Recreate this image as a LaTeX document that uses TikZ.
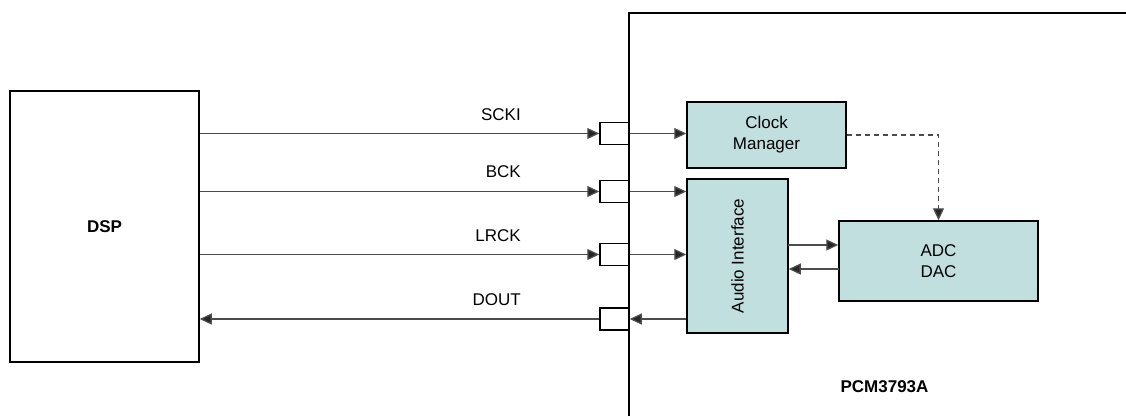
\documentclass[tikz,border=0pt]{standalone}
\usepackage{fontspec}
\setmainfont{Liberation Sans}
\usetikzlibrary{arrows.meta,positioning}
\definecolor{blockfill}{HTML}{C0DFDE}

\tikzset{
	blk/.style={draw, line width=1.5pt, fill=blockfill, inner sep=0pt, align=center, font=\fontsize{17}{21}\selectfont},
	pinbox/.style={draw, line width=1.5pt, fill=white, minimum width=29pt, minimum height=22pt, inner sep=0pt},
	sig/.style={line width=1.3pt, draw=black!70, -{Triangle[length=12pt,width=11pt,fill=black!85]}},
	lbl/.style={inner sep=0pt, anchor=base east, font=\fontsize{17}{21}\selectfont},
}

\begin{document}
\begin{tikzpicture}[x=1pt, y=-1pt]
	\useasboundingbox (0,0) rectangle (1126,416);
	% chip outline
	\coordinate (chipbot) at (629,416);
	\coordinate (chiptop) at (629,13);
	\coordinate (chipright) at (1126,13);
	\draw[line width=1.5pt] (chipbot) -- (chiptop) -- (chipright);
	\node[font=\bfseries\fontsize{17}{21}\selectfont] (chipname) at (884.5,386.5) {PCM3793A};
	% dsp
	\node[draw, line width=1.5pt, minimum width=189pt, minimum height=271pt, font=\bfseries\fontsize{17}{21}\selectfont] (dsp) at (104.5,226.5) {DSP};
	% pins
	\node[pinbox] (pinscki) at (614.5,133.5) {};
	\node[pinbox] (pinbck) at (614.5,191.5) {};
	\node[pinbox] (pinlrck) at (614.5,254.5) {};
	\node[pinbox] (pindout) at (614.5,319) {};
	% blocks
	\node[blk, minimum width=159pt, minimum height=66pt] (clkmgr) at (766.5,135) {Clock\\Manager};
	\node[blk, minimum width=101pt, minimum height=154pt] (audioif) at (737.5,256) {};
	\node[rotate=90, font=\fontsize{17}{21}\selectfont] (audioiflbl) at (audioif.center) {Audio Interface};
	\node[blk, minimum width=199pt, minimum height=80pt] (adcdac) at (938.5,261) {ADC\\DAC};
	% signals from dsp
	\draw[sig] (dsp.east |- pinscki) -- (pinscki.west);
	\draw[sig] (dsp.east |- pinbck) -- (pinbck.west);
	\draw[sig] (dsp.east |- pinlrck) -- (pinlrck.west);
	\draw[sig] (pindout.west) -- (dsp.east |- pindout);
	\node[lbl] (lblscki) at (521,120.5) {SCKI};
	\node[lbl] (lblbck) at (521,177.5) {BCK};
	\node[lbl] (lbllrck) at (521,241) {LRCK};
	\node[lbl] (lbldout) at (521,305) {DOUT};
	% pins to blocks
	\draw[sig] (pinscki.east) -- (pinscki.east -| clkmgr.west);
	\draw[sig] (pinbck.east) -- (pinbck.east -| audioif.west);
	\draw[sig] (pinlrck.east) -- (pinlrck.east -| audioif.west);
	\draw[sig] (pindout.east -| audioif.west) -- (pindout.east);
	% audio interface and converters
	\coordinate (toadc) at (788,245);
	\coordinate (fromadc) at (839,269);
	\draw[sig] (toadc) -- (toadc -| adcdac.west);
	\draw[sig] (fromadc) -- (fromadc -| audioif.east);
	% clock
	\draw[sig, dash pattern=on 5pt off 4pt] (clkmgr.east) -| (adcdac.north);
\end{tikzpicture}
\end{document}
